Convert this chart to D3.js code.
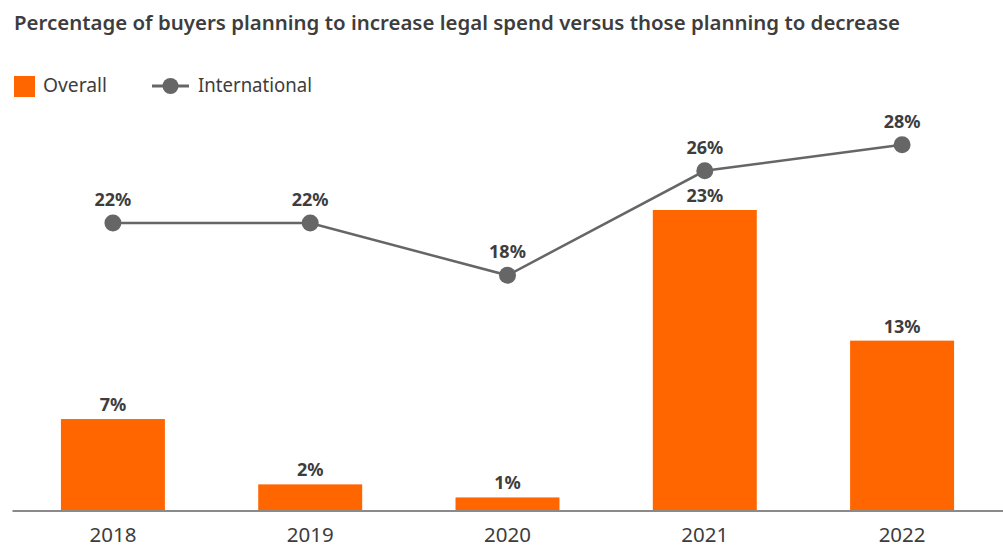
<!DOCTYPE html>
<html>
<head>
<meta charset="utf-8">
<script src="https://cdn.jsdelivr.net/npm/d3@7"></script>
<style>
  html, body { margin: 0; padding: 0; background: #fff; }
  svg { display: block; font-family: "Noto Sans", "DejaVu Sans", sans-serif; }
</style>
</head>
<body>
<svg id="chart" width="1003" height="548"></svg>
<script>
// Chart data
const years = ["2018", "2019", "2020", "2021", "2022"];
const overall = [7, 2, 1, 23, 13];
const international = [22, 22, 18, 26, 28];
const seriesNames = ["Overall", "International"];
const titleText = "Percentage of buyers planning to increase legal spend versus those planning to decrease";

const orange = "#ff6600";
const grey = "#666666";
const textColor = "#3d3d3d";

const svg = d3.select("#chart");

const x = d3.scaleBand()
  .domain(years)
  .range([12, 1003])
  .paddingInner(0.473)
  .paddingOuter(0.248);

const y = d3.scaleLinear()
  .domain([0, 23])
  .range([510.5, 210]);

// Title
svg.append("text")
  .attr("x", 14)
  .attr("y", 30)
  .attr("fill", textColor)
  .attr("font-size", 20)
  .attr("font-weight", 600)
  .attr("textLength", 886)
  .attr("lengthAdjust", "spacingAndGlyphs")
  .text(titleText);

// Legend
const legend = svg.append("g");
legend.append("rect")
  .attr("x", 14).attr("y", 76).attr("width", 21).attr("height", 21)
  .attr("fill", orange);
legend.append("text")
  .attr("x", 43).attr("y", 92)
  .attr("font-size", 19).attr("fill", textColor)
  .attr("textLength", 64).attr("lengthAdjust", "spacingAndGlyphs")
  .text(seriesNames[0]);
legend.append("line")
  .attr("x1", 152).attr("x2", 189).attr("y1", 86).attr("y2", 86)
  .attr("stroke", grey).attr("stroke-width", 3);
legend.append("circle")
  .attr("cx", 170.5).attr("cy", 86).attr("r", 8)
  .attr("fill", grey);
legend.append("text")
  .attr("x", 198).attr("y", 92)
  .attr("font-size", 19).attr("fill", textColor)
  .attr("textLength", 114).attr("lengthAdjust", "spacingAndGlyphs")
  .text(seriesNames[1]);

// Bars
svg.append("g")
  .selectAll("rect")
  .data(years)
  .join("rect")
  .attr("x", d => x(d))
  .attr("width", x.bandwidth())
  .attr("y", (d, i) => y(overall[i]))
  .attr("height", (d, i) => y(0) - y(overall[i]))
  .attr("fill", orange);

// Bar value labels
svg.append("g")
  .selectAll("text")
  .data(years)
  .join("text")
  .attr("x", d => x(d) + x.bandwidth() / 2)
  .attr("y", (d, i) => y(overall[i]) - 8)
  .attr("text-anchor", "middle")
  .attr("font-size", 18)
  .attr("font-weight", 700)
  .attr("fill", textColor)
  .text((d, i) => overall[i] + "%");

// Axis
const axis = svg.append("g")
  .attr("transform", `translate(0,${y(0)})`)
  .call(d3.axisBottom(x).tickSize(0).tickPadding(17));
axis.select(".domain").attr("stroke", "#8a8a8a").attr("stroke-width", 2);
axis.selectAll(".tick text")
  .attr("font-size", 20.5)
  .attr("fill", textColor)
  .attr("font-family", "\"Noto Sans\", sans-serif");

// International line
const cx = d => x(d) + x.bandwidth() / 2;
const line = d3.line()
  .x((d, i) => cx(years[i]))
  .y(d => y(d));

svg.append("path")
  .datum(international)
  .attr("d", line)
  .attr("fill", "none")
  .attr("stroke", grey)
  .attr("stroke-width", 2.5);

svg.append("g")
  .selectAll("circle")
  .data(international)
  .join("circle")
  .attr("cx", (d, i) => cx(years[i]))
  .attr("cy", d => y(d))
  .attr("r", 8.5)
  .attr("fill", grey);

svg.append("g")
  .selectAll("text")
  .data(international)
  .join("text")
  .attr("x", (d, i) => cx(years[i]))
  .attr("y", d => y(d) - 17)
  .attr("text-anchor", "middle")
  .attr("font-size", 18)
  .attr("font-weight", 700)
  .attr("fill", textColor)
  .text(d => d + "%");
</script>
</body>
</html>
